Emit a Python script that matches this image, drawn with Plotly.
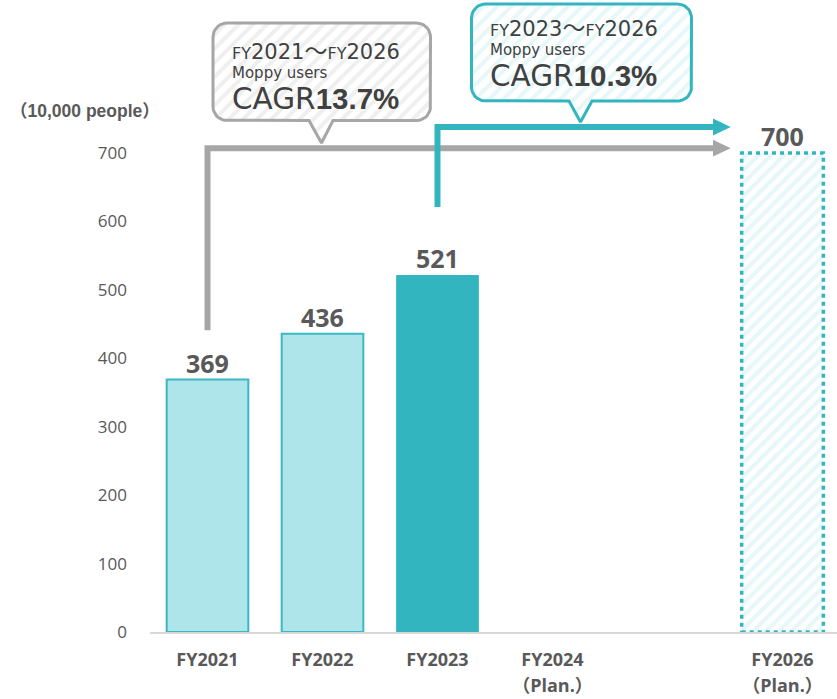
import numpy as np
import plotly.graph_objects as go

# ---------------- data ----------------
categories = ["FY2021", "FY2022", "FY2023", "FY2024", "FY2026"]
users = [369, 436, 521, None, 700]           # 10,000 people
tick_labels = ["FY2021", "FY2022", "FY2023", "FY2024<br>（Plan.）", "FY2026<br>（Plan.）"]
y_ticks = [0, 100, 200, 300, 400, 500, 600, 700]
cagr_periods = [("2021", "2026"), ("2023", "2026")]
cagr_values = [13.7, 10.3]
axis_title = "（10,000 people）"

# ---------------- layout constants ----------------
W, H = 837, 699
ML, MR, MT, MB = 150, 0, 0, 67
PW, PH = W - ML - MR, H - MT - MB
PX_PER_CAT = 115
XMIN = -0.5
XMAX = XMIN + PW / PX_PER_CAT
PX_PER_UNIT = 479 / 700
YMAX = PH / PX_PER_UNIT

LIGHT = "#ade5eb"
TEAL = "#33b5c0"
GRAY = "#a6a6a6"
TXT = "#595959"
DARK = "#404040"

xpos = [int(c[2:]) - 2021 for c in categories]
BAR_W = 0.71

fig = go.Figure()

# actual bars (light)
idx_light = [0, 1]
fig.add_trace(go.Bar(
    x=[xpos[i] for i in idx_light], y=[users[i] for i in idx_light], width=BAR_W,
    marker=dict(color=LIGHT, line=dict(color="#3bb8c3", width=2)),
    showlegend=False, hoverinfo="skip"))
# latest actual
fig.add_trace(go.Bar(
    x=[xpos[2]], y=[users[2]], width=BAR_W,
    marker=dict(color=TEAL, line=dict(color=TEAL, width=1)),
    showlegend=False, hoverinfo="skip"))
# plan bar
fig.add_trace(go.Bar(
    x=[xpos[4]], y=[users[4]], width=BAR_W,
    marker=dict(color="white", line=dict(width=0),
                pattern=dict(shape="/", fgcolor="#cdeff3", bgcolor="white", size=9, solidity=0.45)),
    showlegend=False, hoverinfo="skip"))
# dotted border of plan bar
fig.add_shape(type="rect", xref="x", yref="y",
              x0=xpos[4] - BAR_W / 2, x1=xpos[4] + BAR_W / 2, y0=0, y1=users[4],
              line=dict(color=TEAL, width=3.5, dash="4px,4px"), layer="above")

# value labels
for xp, v in zip(xpos, users):
    if v is None:
        continue
    fig.add_annotation(x=xp, y=v, xref="x", yref="y", text=f"<b>{v}</b>",
                       showarrow=False, yanchor="bottom", yshift=-2,
                       font=dict(family="Open Sans", size=25, color=TXT))

# arrows (data coordinates)
head_base = (713 - (ML + (0 - XMIN) * PX_PER_CAT)) / PX_PER_CAT
head_len = 17.7 / PX_PER_CAT
head_half = 8.4 / PX_PER_UNIT

def arrow(x_start, y_start, y_level, color):
    fig.add_trace(go.Scatter(x=[x_start, x_start, head_base], y=[y_start, y_level, y_level],
                             mode="lines", line=dict(color=color, width=6),
                             showlegend=False, hoverinfo="skip"))
    fig.add_trace(go.Scatter(x=[head_base, head_base + head_len, head_base, head_base],
                             y=[y_level + head_half, y_level, y_level - head_half, y_level + head_half],
                             mode="lines", fill="toself", fillcolor=color,
                             line=dict(color=color, width=0),
                             showlegend=False, hoverinfo="skip"))

arrow(xpos[0], 441, 707, GRAY)
arrow(xpos[2], 621, 738, TEAL)

# callouts on a pixel overlay axis
def callout_path(l, t, r, b, rad, tl, tr, tipx, tipy, n=10):
    xs, ys = [], []
    def arc(cx, cy, a0, a1):
        for a in np.linspace(np.radians(a0), np.radians(a1), n):
            xs.append(cx + rad * np.cos(a))
            ys.append(cy + rad * np.sin(a))
    arc(r - rad, t + rad, -90, 0)
    arc(r - rad, b - rad, 0, 90)
    xs += [tr, tipx, tl]
    ys += [b, tipy, b]
    arc(l + rad, b - rad, 90, 180)
    arc(l + rad, t + rad, 180, 270)
    xs.append(xs[0]); ys.append(ys[0])
    return xs, ys

boxes = [
    dict(geom=(213, 23, 430.5, 120.5, 14, 309, 333, 321.5, 143), color=GRAY, fg="#e0e0e0",
         tx=230, ys=(51, 72.5, 99)),
    dict(geom=(471.5, 4, 691.5, 101, 14, 569, 592, 580.5, 122), color=TEAL, fg="#cdeff3",
         tx=488, ys=(28, 49.5, 76)),
]
for bx, (p0, p1), cv in zip(boxes, cagr_periods, cagr_values):
    xs, ys = callout_path(*bx["geom"])
    fig.add_trace(go.Scatter(x=xs, y=ys, xaxis="x2", yaxis="y2", mode="lines",
                             fill="toself", fillcolor="white",
                             fillpattern=dict(shape="/", fgcolor=bx["fg"], bgcolor="white", size=10, solidity=0.4),
                             line=dict(color=bx["color"], width=3),
                             showlegend=False, hoverinfo="skip"))
    fy = "<span style=\"font-size:16px\">FY</span>"
    lines = [
        (f"{fy}{p0}<span style=\"font-size:23px\">～</span>{fy}{p1}", 21),
        ("Moppy users", 15),
        (f"CAGR<span style=\"font-family:Liberation Sans\"><b>{cv}%</b></span>", 29.5),
    ]
    for (txt, sz), yy in zip(lines, bx["ys"]):
        fig.add_annotation(x=bx["tx"], y=yy, xref="x2", yref="y2", text=txt, showarrow=False,
                           xanchor="left", yanchor="middle",
                           font=dict(family="DejaVu Sans, Noto Sans CJK JP", size=sz, color=DARK))

# axis title (paper coords are relative to the plot area)
fig.add_annotation(x=(8 - ML) / PW, y=1 - (111 - MT) / PH, xref="paper", yref="paper",
                   text=f"<b>{axis_title}</b>",
                   showarrow=False, xanchor="left", yanchor="middle",
                   font=dict(family="Liberation Sans, Noto Sans CJK JP", size=17.5, color=TXT))

fig.update_layout(
    width=W, height=H, margin=dict(l=ML, r=MR, t=MT, b=MB, autoexpand=False),
    paper_bgcolor="white", plot_bgcolor="white",
    barmode="overlay",
    xaxis=dict(range=[XMIN, XMAX], tickvals=xpos, automargin=False,
               ticktext=[f"<span style=\"font-size:18px\"><b>{t}</b></span>" for t in tick_labels],
               showgrid=False, zeroline=False, showline=True, linecolor="#d9d9d9", linewidth=1.5,
               ticks="", ticklabelstandoff=8,
               tickfont=dict(family="Open Sans, Noto Sans CJK JP", size=20, color=TXT)),
    yaxis=dict(range=[0, YMAX], tickvals=y_ticks, showgrid=False, zeroline=False, showline=False,
               ticks="", ticklabelstandoff=22, automargin=False,
               tickfont=dict(family="Open Sans", size=17, color=TXT)),
    xaxis2=dict(range=[ML, W - MR], overlaying="x", visible=False, anchor="y2"),
    yaxis2=dict(range=[H - MB, MT], overlaying="y", visible=False, anchor="x2"),
)

fig.write_html("out.html")
